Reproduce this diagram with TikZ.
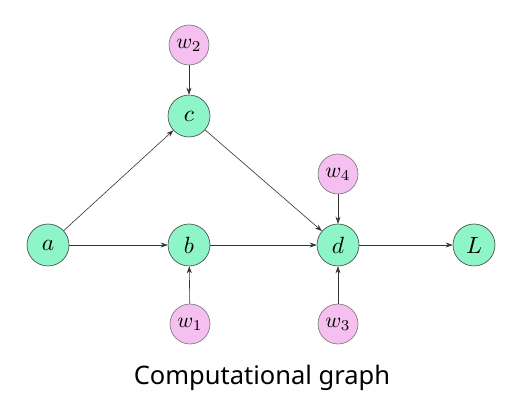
\documentclass[tikz,border=0pt]{standalone}
\usepackage{fontspec}
\newfontfamily\capfont{Noto Sans}
\usetikzlibrary{arrows.meta}
\definecolor{gnode}{HTML}{8EF5C8}
\definecolor{pnode}{HTML}{F5BFF0}
\newcommand{\gl}[1]{\scalebox{2.35}{$#1$}}
\newcommand{\pl}[1]{\scalebox{2.15}{$#1$}}
\begin{document}
\begin{tikzpicture}[x=1pt,y=-1pt,
  gn/.style={circle,draw=black!75,line width=0.6pt,fill=gnode,minimum size=42pt,inner sep=0pt},
  pn/.style={circle,draw=black!55,line width=0.6pt,fill=pnode,minimum size=40pt,inner sep=0pt},
  edge/.style={draw=black!80,line width=0.6pt,-{Stealth[length=7pt,width=5pt]}}]
\useasboundingbox (0,0) rectangle (517,403);
\node[gn] (a) at (48,245) {\gl{a}};
\node[gn] (b) at (189,245) {\gl{b}};
\node[gn] (c) at (189,116) {\gl{c}};
\node[gn] (d) at (338,245) {\gl{d}};
\node[gn] (L) at (474,245) {\gl{L}};
\node[pn] (w2) at (189,45) {\pl{w_2}};
\node[pn] (w4) at (338,174) {\pl{w_4}};
\node[pn] (w1) at (190,324) {\pl{w_1}};
\node[pn] (w3) at (338,324) {\pl{w_3}};
\node (cap) at (262,378) {\capfont\fontsize{25.5}{28}\selectfont Computational graph};
\path[edge] (a) -- (b);
\path[edge] (a) -- (c);
\path[edge] (c) -- (d);
\path[edge] (b) -- (d);
\path[edge] (d) -- (L);
\path[edge] (w2) -- (c);
\path[edge] (w4) -- (d);
\path[edge] (w1) -- (b);
\path[edge] (w3) -- (d);
\end{tikzpicture}
\end{document}
